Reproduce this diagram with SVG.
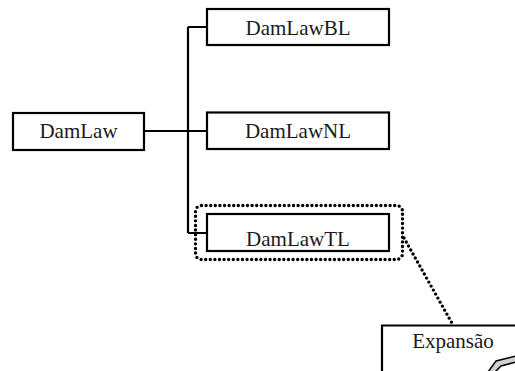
<svg xmlns="http://www.w3.org/2000/svg" width="515" height="371" viewBox="0 0 515 371">
<style>
.box{fill:#fff;stroke:#000;stroke-width:2.2}
.t{font-family:"Liberation Serif","Times New Roman",serif;font-size:21px;fill:#1a1a1a;text-anchor:middle}
.ln{fill:none;stroke:#000;stroke-width:2.2}
.dot{fill:none;stroke:#000;stroke-width:3.4;stroke-linecap:round;stroke-dasharray:0 4.6}
</style>
<rect width="515" height="371" fill="#fff"/>
<g id="connectors">
<path class="ln" d="M144,131 H207 M188,27 V233 M188,27 H207 M188,233 H207"/>
</g>
<g id="DamLaw">
<rect class="box" x="13" y="113" width="131" height="37"/>
<text class="t" x="78.5" y="137.5">DamLaw</text>
</g>
<g id="DamLawBL">
<rect class="box" x="207" y="9" width="182" height="36"/>
<text class="t" x="298" y="34.5">DamLawBL</text>
</g>
<g id="DamLawNL">
<rect class="box" x="207" y="112.5" width="182" height="36.5"/>
<text class="t" x="298" y="137.5">DamLawNL</text>
</g>
<g id="DamLawTL">
<rect class="box" x="207" y="214" width="182" height="37"/>
<text class="t" x="298" y="246">DamLawTL</text>
</g>
<g id="highlight">
<rect class="dot" x="195.5" y="205.5" width="207" height="54" rx="6"/>
<path class="dot" d="M404,238 L453,325"/>
</g>
<g id="Expansao">
<path class="ln" d="M382,372 V325.5 H516"/>
<text class="t" x="453" y="348">Expansão</text>
<polygon points="488,372 496,361 516,356 516,362 501,366 495,372" fill="#d0d0d0" stroke="#000" stroke-width="1.5"/>
</g>
</svg>
